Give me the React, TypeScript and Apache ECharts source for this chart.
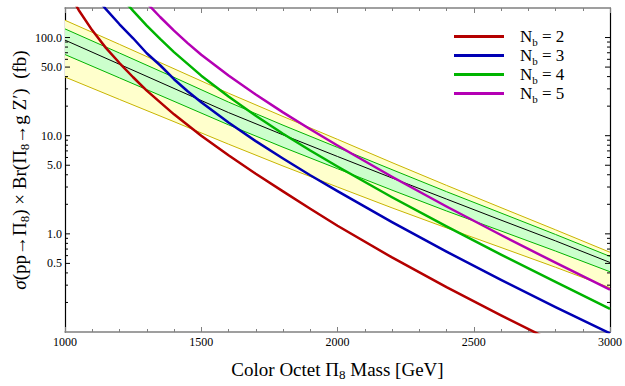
import React, { useEffect, useRef } from "react";
import * as echarts from "echarts";

// ---- data ----
const BAND_MASS = [1000, 1200, 1400, 1600, 1800, 2000, 2200, 2400, 2600, 2800, 3000];
const CENTRAL = [94.1, 53.4, 30.3, 17.2, 10.2, 6.14, 3.71, 2.26, 1.38, 0.848, 0.511];
const ONE_SIGMA_UP = [122.5, 69.5, 39.3, 22.0, 12.8, 7.6, 4.51, 2.69, 1.63, 0.986, 0.589];
const ONE_SIGMA_DOWN = [67.1, 38.8, 22.4, 12.9, 7.63, 4.61, 2.79, 1.71, 1.07, 0.668, 0.411];
const TWO_SIGMA_UP = [150, 85.2, 48.1, 27.1, 15.7, 9.18, 5.32, 3.12, 1.85, 1.1, 0.649];
const TWO_SIGMA_DOWN = [39.6, 23.4, 13.9, 8.2, 4.91, 3.0, 1.84, 1.15, 0.726, 0.457, 0.282];

const NB2_MASS = [1000, 1050, 1100, 1150, 1200, 1250, 1300, 1400, 1500, 1600, 1700, 1800, 1900, 2000, 2200, 2400, 2600, 2800];
const NB2 = [339, 191, 118.4, 78.5, 55.0, 39.4, 28.8, 16.5, 10.0, 6.31, 4.09, 2.71, 1.8, 1.21, 0.575, 0.286, 0.148, 0.078];
const NB3_MASS = [1100, 1150, 1200, 1250, 1300, 1350, 1400, 1450, 1500, 1600, 1700, 1800, 1900, 2000, 2200, 2400, 2600, 2800, 3000];
const NB3 = [285, 195, 136.5, 98.3, 69.2, 51.9, 37.6, 28.4, 21.9, 13.6, 8.81, 5.85, 3.95, 2.72, 1.318, 0.659, 0.339, 0.179, 0.0968];
const NB4_MASS = [1200, 1250, 1300, 1350, 1400, 1500, 1600, 1700, 1800, 1900, 2000, 2200, 2400, 2600, 2800, 3000];
const NB4 = [269, 187, 132.4, 96.2, 71.1, 40.9, 25.1, 15.94, 10.48, 7.06, 4.85, 2.36, 1.19, 0.614, 0.324, 0.172];
const NB5_MASS = [1300, 1350, 1400, 1450, 1500, 1600, 1700, 1800, 1900, 2000, 2200, 2400, 2600, 2800, 3000];
const NB5 = [225, 161, 117.5, 87.8, 66.8, 41.0, 26.3, 17.3, 11.64, 7.94, 3.82, 1.9, 0.973, 0.508, 0.27];

const NB_LABELS = ["2", "3", "4", "5"];
const Y_LABEL_TICKS = [0.5, 1, 5, 10, 50, 100];
const Y_MINOR_TICKS = [0.2, 0.3, 0.4, 0.6, 0.7, 0.8, 0.9, 2, 3, 4, 6, 7, 8, 9, 20, 30, 40, 60, 70, 80, 90];

const SERIF = "'Liberation Serif','Times New Roman','DejaVu Serif',serif";
const NB_COLORS = ["#B40000", "#0000B4", "#00B400", "#B400B4"];
const YELLOW_FILL = "#FFFFCC";
const GREEN_FILL = "#CCFFCC";
const YELLOW_EDGE = "#C8B400";
const GREEN_EDGE = "#00B400";
const FRAME_GRAY = "#808080";

const pairs = (xs: number[], ys: number[]) => xs.map((x, i) => [x, ys[i]]);

export default function App() {
  const ref = useRef<HTMLDivElement>(null);

  useEffect(() => {
    const chart = echarts.init(ref.current!, null, { renderer: "svg" });

    const bandPolygon = (up: number[], down: number[], fill: string, z: number) => ({
      type: "custom",
      silent: true,
      z,
      data: [[BAND_MASS[0], up[0]]],
      renderItem: (params: any, api: any) => {
        const pts: number[][] = [];
        BAND_MASS.forEach((m, i) => pts.push(api.coord([m, up[i]])));
        for (let i = BAND_MASS.length - 1; i >= 0; i--) pts.push(api.coord([BAND_MASS[i], down[i]]));
        return { type: "polygon", shape: { points: pts }, style: { fill, stroke: "none" } };
      },
    });

    const bandLine = (name: string, ys: number[], color: string, z: number) => ({
      type: "line",
      name,
      data: pairs(BAND_MASS, ys),
      showSymbol: false,
      symbol: "none",
      silent: true,
      z,
      lineStyle: { color, width: 1 },
      color,
    });

    const nbLine = (i: number, xs: number[], ys: number[]) => ({
      type: "line",
      name: "Nb = " + NB_LABELS[i],
      data: pairs(xs, ys),
      showSymbol: false,
      symbol: "none",
      smooth: false,
      silent: true,
      z: 5,
      color: NB_COLORS[i],
      lineStyle: { color: NB_COLORS[i], width: 2.5, join: "round" },
    });

    const yTickData = [
      ...Y_MINOR_TICKS.map((v) => [1000, v, 0]),
      ...Y_LABEL_TICKS.map((v) => [1000, v, 1]),
    ];

    const yTicks = {
      type: "custom",
      silent: true,
      clip: false,
      z: 10,
      data: yTickData,
      renderItem: (params: any, api: any) => {
        const v = api.value(1);
        const major = api.value(2) === 1;
        const cs = params.coordSys;
        const y = api.coord([1000, v])[1];
        const len = major ? 5 : 3;
        const children: any[] = [
          { type: "line", shape: { x1: cs.x, y1: y, x2: cs.x + len, y2: y }, style: { stroke: "#000", lineWidth: 1 } },
          {
            type: "line",
            shape: { x1: cs.x + cs.width - len, y1: y, x2: cs.x + cs.width, y2: y },
            style: { stroke: "#000", lineWidth: 1 },
          },
        ];
        if (major) {
          children.push({
            type: "text",
            x: cs.x - 3,
            y,
            style: {
              text: v.toFixed(1),
              align: "right",
              verticalAlign: "middle",
              fontSize: 12,
              fontFamily: SERIF,
              fill: "#000",
            },
          });
        }
        return { type: "group", children };
      },
    };

    const subRich = {
      a: { fontSize: 19, lineHeight: 24, fontFamily: SERIF, color: "#000" },
      i: { fontSize: 19, lineHeight: 24, fontFamily: SERIF, fontStyle: "italic", color: "#000" },
      s: { fontSize: 13, lineHeight: 14, verticalAlign: "bottom", fontFamily: SERIF, color: "#000" },
    };

    const xAxisCommon = {
      type: "value",
      min: 1000,
      max: 3000,
      interval: 500,
      splitLine: { show: false },
      axisLine: { show: true, lineStyle: { color: FRAME_GRAY, width: 1.5 } },
      axisTick: { show: true, inside: true, length: 5, lineStyle: { color: FRAME_GRAY, width: 1 } },
      minorTick: { show: true, splitNumber: 5, length: 3, lineStyle: { color: FRAME_GRAY, width: 1 } },
    };

    const yAxisCommon = {
      type: "log",
      logBase: 10,
      min: 0.1,
      max: 200,
      splitLine: { show: false },
      axisTick: { show: false },
      axisLabel: { show: false },
      axisLine: { show: true, lineStyle: { color: "#000", width: 1.2 } },
    };

    chart.setOption({
      animation: false,
      backgroundColor: "#fff",
      grid: { left: 65, right: 13, top: 8, bottom: 40 },
      xAxis: [
        {
          ...xAxisCommon,
          position: "bottom",
          axisLabel: {
            show: true,
            margin: 4,
            fontSize: 12,
            fontFamily: SERIF,
            color: "#000",
            formatter: (v: number) => String(v),
          },
          name: "{a|Color Octet Π}{s|8}{a| Mass [GeV]}",
          nameLocation: "middle",
          nameGap: 25,
          nameTextStyle: { rich: subRich },
        },
        { ...xAxisCommon, position: "top", axisLabel: { show: false } },
      ],
      yAxis: [
        {
          ...yAxisCommon,
          position: "left",
          name: "{i|σ}{a|(pp→Π}{s|8}{a|) × Br(Π}{s|8}{a|→g Z′)  (fb)}",
          nameLocation: "middle",
          nameRotate: 90,
          nameGap: 34,
          nameTextStyle: { rich: subRich },
        },
        { ...yAxisCommon, position: "right" },
      ],
      legend: {
        data: NB_LABELS.map((l) => "Nb = " + l),
        orient: "vertical",
        left: 454,
        top: 28,
        padding: 0,
        itemGap: 0,
        icon: "rect",
        itemWidth: 50,
        itemHeight: 3,
        selectedMode: false,
        formatter: (name: string) => "{g| }{n|N}{s|b}{n| = " + name.split("= ")[1] + "}",
        textStyle: {
          color: "#000",
          fontFamily: SERIF,
          fontSize: 17,
          rich: {
            g: { width: 11 },
            n: { fontSize: 17, lineHeight: 21, fontFamily: SERIF, color: "#000" },
            s: { fontSize: 11, lineHeight: 10, verticalAlign: "bottom", fontFamily: SERIF, color: "#000" },
          },
        },
      },
      series: [
        bandPolygon(TWO_SIGMA_UP, TWO_SIGMA_DOWN, YELLOW_FILL, 1),
        bandPolygon(ONE_SIGMA_UP, ONE_SIGMA_DOWN, GREEN_FILL, 2),
        bandLine("2σ up", TWO_SIGMA_UP, YELLOW_EDGE, 3),
        bandLine("2σ down", TWO_SIGMA_DOWN, YELLOW_EDGE, 3),
        bandLine("1σ up", ONE_SIGMA_UP, GREEN_EDGE, 3),
        bandLine("1σ down", ONE_SIGMA_DOWN, GREEN_EDGE, 3),
        bandLine("central", CENTRAL, "#000", 4),
        nbLine(0, NB2_MASS, NB2),
        nbLine(1, NB3_MASS, NB3),
        nbLine(2, NB4_MASS, NB4),
        nbLine(3, NB5_MASS, NB5),
        yTicks,
      ],
    });

    return () => chart.dispose();
  }, []);

  return (
    <div
      ref={ref}
      style={{ position: "fixed", left: 0, top: 0, width: 625, height: 386, background: "#fff" }}
    />
  );
}
